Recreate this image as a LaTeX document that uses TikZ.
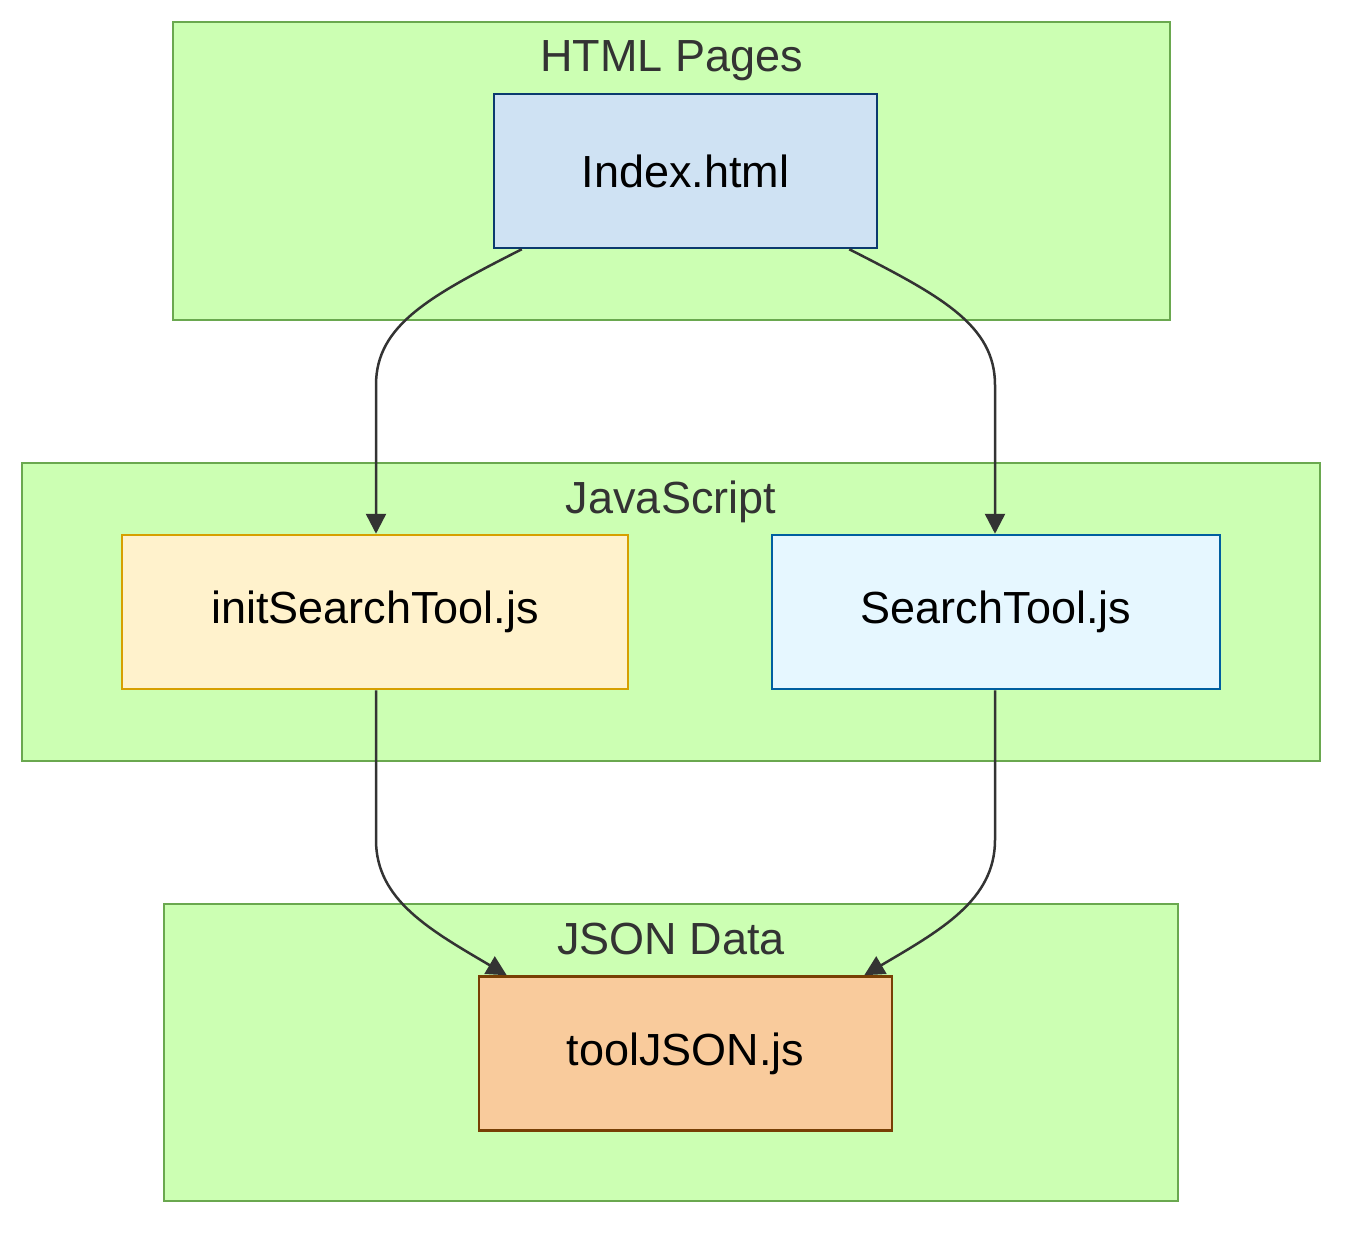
\documentclass[tikz,border=0pt]{standalone}
\usepackage{fontspec}
\setmainfont{Liberation Sans}
\usetikzlibrary{arrows.meta,calc}
\definecolor{clfill}{HTML}{CCFFB3}
\definecolor{cldraw}{HTML}{6AA84F}
\definecolor{edgec}{HTML}{333333}
\definecolor{idxfill}{HTML}{CFE2F3}
\definecolor{idxdraw}{HTML}{0B3A6E}
\definecolor{inifill}{HTML}{FFF2CC}
\definecolor{inidraw}{HTML}{D6A000}
\definecolor{srfill}{HTML}{E6F7FF}
\definecolor{srdraw}{HTML}{005FA0}
\definecolor{tjfill}{HTML}{F9CB9C}
\definecolor{tjdraw}{HTML}{783F04}
\tikzset{
  cluster/.style={fill=clfill,draw=cldraw,line width=2.5pt},
  cltitle/.style={anchor=base,inner sep=0pt,text=edgec,font=\fontsize{45}{54}\selectfont},
  filebox/.style={rectangle,line width=2.5pt,minimum height=154pt,inner sep=0pt,font=\fontsize{45}{54}\selectfont,text=black},
  edge/.style={draw=edgec,line width=2.5pt,-{Triangle[length=20pt,width=20pt]}}
}
\begin{document}
\begin{tikzpicture}[x=1pt,y=-1pt]
\useasboundingbox (0,0) rectangle (1366,1246);
% clusters
\draw[cluster] (173,22) rectangle (1170,320);
\node[cltitle] (t1) at (671.5,72) {HTML Pages};
\draw[cluster] (22,463) rectangle (1320,761);
\node[cltitle] (t2) at (671,513) {JavaScript};
\draw[cluster] (164,904) rectangle (1178,1201);
\node[cltitle] (t3) at (671,954) {JSON Data};
% nodes
\node[filebox,fill=idxfill,draw=idxdraw,minimum width=383pt] (idx) at (685.5,171) {Index.html};
\node[filebox,fill=inifill,draw=inidraw,minimum width=506pt] (ini) at (375,612) {initSearchTool.js};
\node[filebox,fill=srfill,draw=srdraw,minimum width=448pt] (src) at (996,612) {SearchTool.js};
\node[filebox,fill=tjfill,draw=tjdraw,minimum width=413pt] (tj) at (685.5,1053.5) {toolJSON.js};
% edges
\draw[edge] ([xshift=29pt]idx.south west) .. controls (430,296) and (376,325) .. (376,385) -- ([xshift=1pt]ini.north);
\draw[edge] ([xshift=-29pt]idx.south east) .. controls (941,296) and (995,325) .. (995,385) -- ([xshift=-1pt]src.north);
\draw[edge] ([xshift=1pt]ini.south) -- (376,840) .. controls (376,900) and (430,930) .. ([xshift=29pt]tj.north west);
\draw[edge] ([xshift=-1pt]src.south) -- (995,840) .. controls (995,900) and (941,930) .. ([xshift=-29pt]tj.north east);
\end{tikzpicture}
\end{document}
